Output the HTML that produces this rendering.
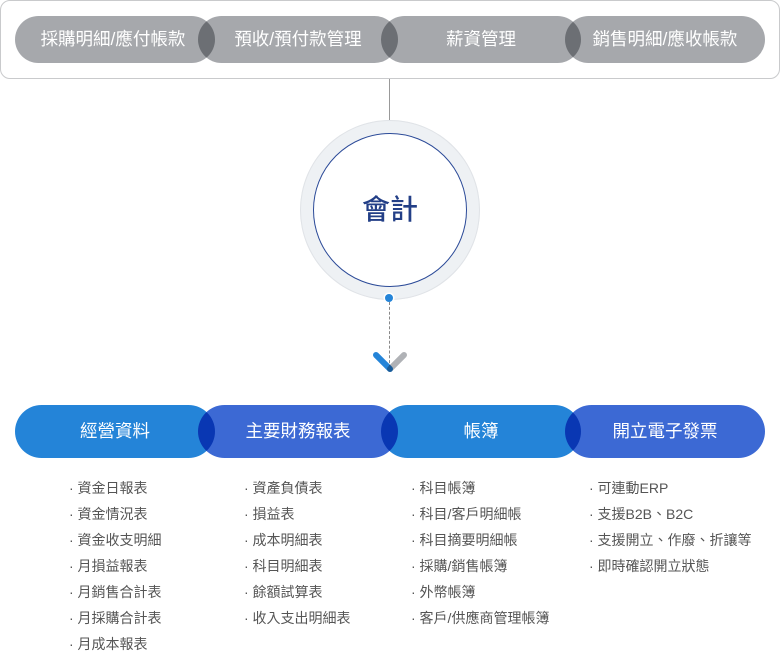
<!DOCTYPE html>
<html><head><meta charset="utf-8"><style>
body{margin:0;width:780px;height:652px;background:#fff;position:relative;overflow:hidden;font-family:"Liberation Sans","Noto Sans CJK TC",sans-serif}
.box{position:absolute;left:0;top:0;width:778px;height:77px;border:1px solid #c9cacc;border-radius:10px;box-sizing:content-box}
.p{position:absolute;width:200px;height:47px;border-radius:24px;color:#fff;font-size:17px;text-align:center;line-height:47px;mix-blend-mode:multiply}
.g{background:#a6a8ac;top:16px}
.b{top:405px;height:53px;line-height:53px;border-radius:27px}
.t{position:absolute;width:200px;text-align:center;color:#fff;font-size:17.5px}
.l{position:absolute;font-size:14px;color:#555;line-height:26px;top:475px}
</style></head><body>
<div class="box"></div>
<div class="p g" style="left:15px"></div>
<div class="p g" style="left:198px"></div>
<div class="p g" style="left:381px"></div>
<div class="p g" style="left:565px"></div>
<div class="t" style="left:13px;top:16px;line-height:47px">採購明細/應付帳款</div>
<div class="t" style="left:198px;top:16px;line-height:47px">預收/預付款管理</div>
<div class="t" style="left:381px;top:16px;line-height:47px">薪資管理</div>
<div class="t" style="left:565px;top:16px;line-height:47px">銷售明細/應收帳款</div>
<div style="position:absolute;left:389px;top:79px;width:1px;height:41px;background:#999"></div>
<div style="position:absolute;left:300px;top:120px;width:180px;height:180px;border-radius:50%;background:#eef1f4;box-shadow:inset 0 0 0 1px #e0e3e7"></div>
<div style="position:absolute;left:313px;top:133px;width:152px;height:152px;border-radius:50%;background:#fff;border:1px solid #2b4a98"></div>
<div style="position:absolute;left:290px;top:192px;width:200px;text-align:center;font-size:28px;font-weight:500;color:#233f87;line-height:36px">會計</div>
<div style="position:absolute;left:385px;top:294px;width:8px;height:8px;border-radius:50%;background:#2484d8;box-shadow:0 0 0 1.5px #fff"></div>
<div style="position:absolute;left:389px;top:302px;width:0;height:66px;border-left:1px dashed #888"></div>
<svg style="position:absolute;left:368px;top:348px" width="44" height="30"><line x1="22" y1="21" x2="36" y2="7" stroke="#b0b2b6" stroke-width="6" stroke-linecap="round"/><line x1="8" y1="7" x2="22" y2="21" stroke="#2484d8" stroke-width="6" stroke-linecap="round" style="mix-blend-mode:multiply"/></svg>
<div class="p b" style="left:15px;background:#2484d8"></div>
<div class="p b" style="left:198px;background:#3c69d4"></div>
<div class="p b" style="left:381px;background:#2484d8"></div>
<div class="p b" style="left:565px;background:#3c69d4"></div>
<div class="t" style="left:15px;top:405px;line-height:53px">經營資料</div>
<div class="t" style="left:198px;top:405px;line-height:53px">主要財務報表</div>
<div class="t" style="left:381px;top:405px;line-height:53px">帳簿</div>
<div class="t" style="left:565px;top:405px;line-height:53px">開立電子發票</div>
<div class="l" style="left:69px">· 資金日報表<br>· 資金情況表<br>· 資金收支明細<br>· 月損益報表<br>· 月銷售合計表<br>· 月採購合計表<br>· 月成本報表</div>
<div class="l" style="left:244px">· 資產負債表<br>· 損益表<br>· 成本明細表<br>· 科目明細表<br>· 餘額試算表<br>· 收入支出明細表</div>
<div class="l" style="left:411px">· 科目帳簿<br>· 科目/客戶明細帳<br>· 科目摘要明細帳<br>· 採購/銷售帳簿<br>· 外幣帳簿<br>· 客戶/供應商管理帳簿</div>
<div class="l" style="left:589px">· 可連動ERP<br>· 支援B2B、B2C<br>· 支援開立、作廢、折讓等<br>· 即時確認開立狀態</div>
</body></html>
